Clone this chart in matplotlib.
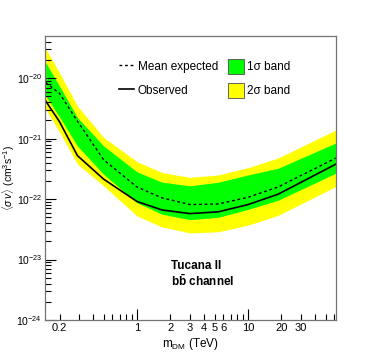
import matplotlib
matplotlib.use("Agg")
import matplotlib.pyplot as plt
import numpy as np
from matplotlib.patches import Patch
from matplotlib.lines import Line2D

plt.rcParams['font.family'] = ['Liberation Sans', 'DejaVu Sans']
plt.rcParams['mathtext.fontset'] = 'custom'
plt.rcParams['mathtext.rm'] = 'Liberation Sans'
plt.rcParams['mathtext.it'] = 'Liberation Sans:italic'
plt.rcParams['mathtext.bf'] = 'Liberation Sans:bold'

# dark matter mass (TeV) and log10 of <sigma v> limits (cm^3 s^-1)
mass = [0.15, 0.2, 0.29, 0.5, 1.0, 1.68, 3.0, 5.4, 10, 18.6, 62]
log_2sig_up = [-19.51, -19.91, -20.46, -20.98, -21.38, -21.56, -21.64, -21.60, -21.48, -21.32, -20.855]
log_1sig_up = [-19.74, -20.13, -20.65, -21.12, -21.55, -21.72, -21.78, -21.72, -21.60, -21.49, -21.07]
log_mean = [-20.07, -20.25, -20.71, -21.35, -21.80, -21.98, -22.09, -22.08, -21.97, -21.80, -21.32]
log_observed = [-20.375, -20.72, -21.28, -21.67, -22.04, -22.18, -22.24, -22.21, -22.09, -21.92, -21.42]
log_1sig_dn = [-20.29, -20.64, -21.12, -21.59, -22.06, -22.25, -22.34, -22.30, -22.17, -22.02, -21.57]
log_2sig_dn = [-20.51, -20.89, -21.42, -21.78, -22.28, -22.46, -22.56, -22.54, -22.43, -22.27, -21.79]

x_labels = {0.2: "0.2", 1: "1", 2: "2", 3: "3", 4: "4", 5: "5", 6: "6",
            10: "10", 20: "20", 30: "30"}

m = np.array(mass)
p = lambda a: 10.0 ** np.array(a)

fig = plt.figure(figsize=(3.74, 3.56), dpi=100)
ax = fig.add_axes([45 / 374, 1 - 320 / 356, 291 / 374, 284 / 356])

ax.fill_between(m, p(log_2sig_dn), p(log_2sig_up), color='#ffff00', lw=0)
ax.fill_between(m, p(log_1sig_dn), p(log_1sig_up), color='#00ff00', lw=0)
ax.plot(m, p(log_mean), color='black', lw=1.0, ls=(0, (2, 2)))
ax.plot(m, p(log_observed), color='black', lw=1.2)

ax.set_xscale('log')
ax.set_yscale('log')
ax.set_xlim(0.148, 62)
ax.set_ylim(1e-24, 5e-20)

# x ticks, ROOT style
xmin_ticks = [v * d for d in (0.1, 1, 10) for v in range(2, 10) if 0.148 < v * d < 62]
ax.set_xticks([1, 10])
ax.set_xticklabels(["1", "10"])
ax.set_xticks(xmin_ticks, minor=True)
ax.set_xticklabels([x_labels.get(round(t, 3), "") for t in xmin_ticks], minor=True)

ydec = [1e-24, 1e-23, 1e-22, 1e-21, 1e-20]
ax.set_yticks(ydec)
ax.set_yticklabels([r'$10^{%d}$' % e for e in range(-24, -19)])
ax.set_yticks([v * d for d in ydec for v in range(2, 10) if v * d < 5e-20], minor=True)
ax.set_yticklabels([], minor=True)

ax.tick_params(which='both', direction='in', top=False, right=False,
               labelsize=8, color='black', pad=2.5)
ax.tick_params(axis='y', which='both', labelsize=7.5, pad=2)
ax.tick_params(which='major', length=8, width=0.8)
ax.tick_params(which='minor', length=4, width=0.8)
for s in ax.spines.values():
    s.set_color('0.45')
    s.set_linewidth(0.9)

ax.set_xlabel(r'm$_{\rm DM}$ (TeV)', fontsize=8.5, labelpad=2)
ax.set_ylabel(r'$\langle\sigma\,v\rangle$ (cm$^{3}$s$^{-1}$)', fontsize=7.5)
ax.yaxis.set_label_coords(-0.097, 0.5)

ax.text(0.432, 0.19, 'Tucana II', transform=ax.transAxes, fontsize=8.5,
        fontweight='bold', va='center')
ax.text(0.432, 0.137, r'b$\mathbf{\bar{b}}$ channel', transform=ax.transAxes,
        fontsize=8.5, fontweight='bold', va='center')

handles = [Line2D([], [], color='black', lw=1.0, ls=(0, (2, 2))),
           Line2D([], [], color='black', lw=1.2),
           Patch(facecolor='#00ff00', edgecolor='0.3', lw=0.6),
           Patch(facecolor='#ffff00', edgecolor='0.3', lw=0.6)]
labels = ['Mean expected', 'Observed', u'1\u03c3 band', u'2\u03c3 band']
ax.legend(handles, labels, ncol=2, loc='upper left', bbox_to_anchor=(0.234, 0.94),
          frameon=False, fontsize=8.5, handlelength=1.3, handleheight=1.6,
          labelspacing=0.75, columnspacing=0.85, handletextpad=0.3, borderpad=0)

fig.savefig('out.png', dpi=100)
